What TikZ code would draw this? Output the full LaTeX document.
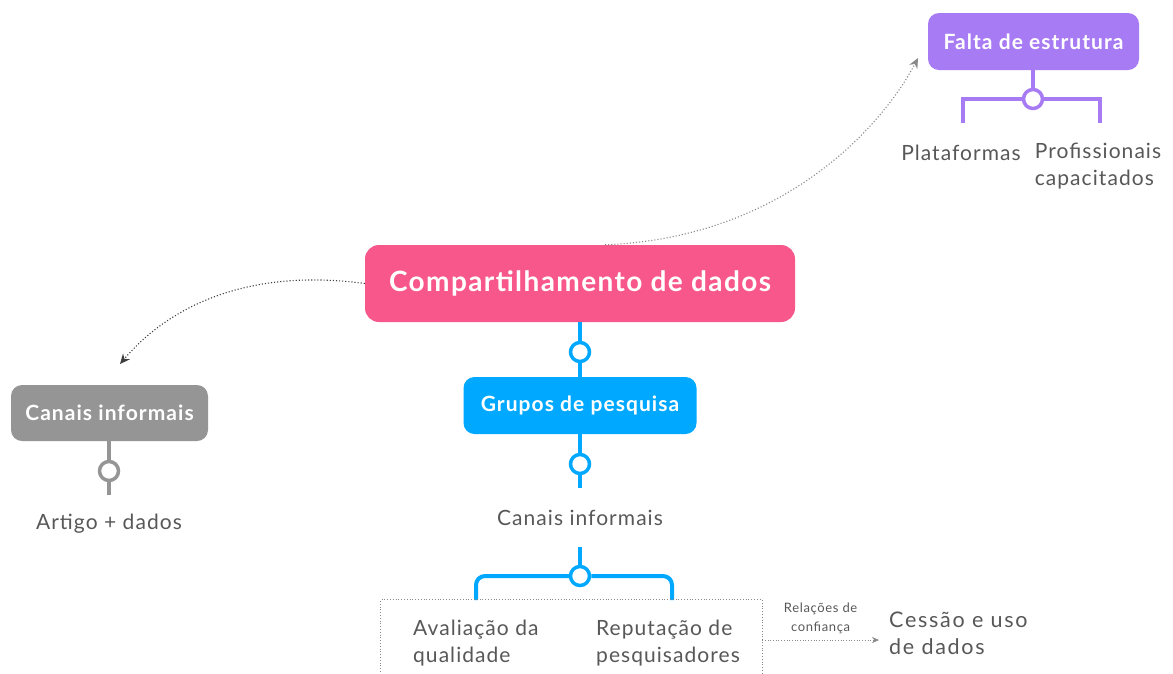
\documentclass[tikz,border=0pt]{standalone}
\usepackage{fontspec}
\setmainfont{Lato}[LetterSpace=5]
\usetikzlibrary{arrows.meta}
\definecolor{pinkc}{HTML}{F7578A}
\definecolor{bluec}{HTML}{00A9FF}
\definecolor{grayc}{HTML}{959595}
\definecolor{purplec}{HTML}{A77BF3}
\definecolor{txtc}{HTML}{585858}
\definecolor{dotc}{HTML}{8A8A8A}
\definecolor{darkdot}{HTML}{3F3F3F}
\tikzset{
  topic/.style={rounded corners=14pt, text=white, inner sep=0pt, align=center},
  circ/.style={circle, draw=#1, fill=white, line width=3.5pt, minimum size=19pt, inner sep=0pt},
  branch/.style={draw=#1, line width=4pt},
  plain/.style={text=txtc, inner sep=0pt, font=\fontsize{21}{27}\selectfont},
  rel/.style={dotted, line width=1.1pt, draw=#1, -{Stealth[length=10pt,width=9pt,fill=#1]}},
}
\begin{document}
\begin{tikzpicture}[x=1pt,y=-1pt]
\useasboundingbox[fill=white] (0,0) rectangle (1173,673);

% main
\node[topic, fill=pinkc, minimum width=430pt, minimum height=77pt,
      font=\fontsize{28}{30}\selectfont\bfseries] (main) at (580,283.5) {Compartilhamento de dados};

% grupos
\node[topic, fill=bluec, minimum width=233pt, minimum height=57pt,
      rounded corners=11pt, font=\fontsize{21}{22}\selectfont\bfseries] (grupos) at (580,405.5) {Grupos de pesquisa};
\node[circ=bluec] (c1) at (580,352) {};
\draw[branch=bluec] (main) -- (c1) -- (grupos);

\node[circ=bluec] (c2) at (580,464) {};
\coordinate (e2) at (580,488);
\draw[branch=bluec] (grupos) -- (c2) -- (e2);

\node[plain] (canc) at (580,518) {Canais informais};

\coordinate (s3) at (580,547);
\node[circ=bluec] (c3) at (580,576) {};
\coordinate (bl3) at (476,600);
\coordinate (br3) at (672,600);
\draw[branch=bluec] (s3) -- (c3);
\draw[branch=bluec, rounded corners=9pt] (bl3) |- (c3.west);
\draw[branch=bluec, rounded corners=9pt] (br3) |- (c3.east);

% dotted box
\node[minimum width=381pt, minimum height=80pt, inner sep=0pt] (box) at (571.5,640) {};
\draw[dotted, line width=0.8pt, draw=dotc] (box.south west) -- (box.north west) -- (box.north east) -- (box.south east);
\node[plain, anchor=west, align=left] (aval) at (413,643) {Avaliação da\\qualidade};
\node[plain, anchor=west, align=left] (repu) at (596,643) {Reputação de\\pesquisadores};

% cessao
\node[plain, anchor=west, align=left, inner xsep=10pt, font=\fontsize{21.5}{27}\addfontfeature{LetterSpace=8}] (cess) at (879,633) {Cessão e uso\\de dados};
\draw[dotted, line width=0.7pt, draw=dotc, -{Stealth[length=7pt,width=6pt,fill=dotc]}] (box.east) -- node[above=3pt, text=txtc, align=center, font=\fontsize{13}{19}\selectfont] (lab) {Relações de\\confiança} (box.east -| cess.west);

% left gray
\node[topic, fill=grayc, minimum width=197pt, minimum height=56pt, rounded corners=11pt,
      font=\fontsize{21}{22}\selectfont\bfseries] (canl) at (109.5,413) {Canais informais};
\node[circ=grayc] (cl) at (109,471) {};
\coordinate (el) at (109,495);
\draw[branch=grayc] (canl.south -| cl) -- (cl) -- (el);
\node[plain] (art) at (109,524) {Artigo + dados};

% purple
\node[topic, fill=purplec, minimum width=211pt, minimum height=57pt, rounded corners=11pt,
      font=\fontsize{21}{22}\selectfont\bfseries] (falta) at (1033.5,41.5) {Falta de estrutura};
\node[circ=purplec] (cp) at (1033,99) {};
\draw[branch=purplec] (falta.south -| cp) -- (cp);
\coordinate (blp) at (963,123);
\coordinate (brp) at (1100,123);
\draw[branch=purplec] (blp) |- (cp.west);
\draw[branch=purplec] (brp) |- (cp.east);
\node[plain] (plat) at (961,153) {Plataformas};
\node[plain, align=left] (prof) at (1098,166.5) {Profissionais\\capacitados};

% relation curves
\coordinate (a1) at (120,364);
\draw[rel=darkdot] (main.west) .. controls (250,268) and (170,305) .. (a1);
\coordinate (a2) at (918,58);
\draw[rel=dotc] ([xshift=25pt]main.north) .. controls (780,238) and (880,130) .. (a2);
\end{tikzpicture}
\end{document}
